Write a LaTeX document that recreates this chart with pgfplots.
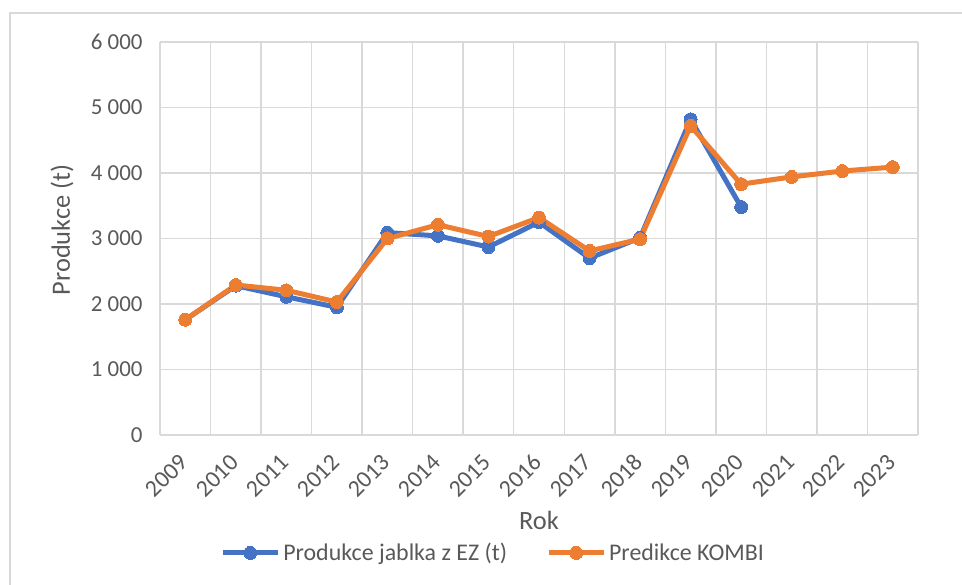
\documentclass[border=0pt]{standalone}
\usepackage{fontspec}
\setmainfont{Carlito}
\usepackage{pgfplots}
\pgfplotsset{compat=1.18}
\definecolor{exblue}{HTML}{4472C4}
\definecolor{exorange}{HTML}{ED7D31}
\definecolor{gridc}{HTML}{D9D9D9}
\definecolor{txt}{HTML}{595959}
\begin{document}
\begin{tikzpicture}
\begin{axis}[
  at={(0,0)}, anchor=south west,
  scale only axis, width=758bp, height=393bp,
  xmin=-0.5, xmax=14.5, ymin=0, ymax=6000,
  xtick={0,...,14},
  xticklabels={2009,2010,2011,2012,2013,2014,2015,2016,2017,2018,2019,2020,2021,2022,2023},
  minor xtick={-0.5,0.5,...,14.5},
  ytick={0,1000,2000,3000,4000,5000,6000},
  yticklabels={0,1 000,2 000,3 000,4 000,5 000,6 000},
  ymajorgrids, xminorgrids,
  major tick length=0, minor tick length=0,
  major grid style={draw=gridc, line width=1.5bp},
  minor grid style={draw=gridc, line width=1.5bp},
  axis line style={draw=none},
  tick label style={text=txt},
  yticklabel style={font=\fontsize{23}{27}\selectfont, xshift=-14bp},
  xticklabel style={font=\fontsize{24}{28}\selectfont, xshift=1bp, yshift=-21bp, rotate=45, anchor=east},
  xlabel={Rok}, ylabel={Produkce (t)},
  label style={font=\fontsize{26.5}{30}\selectfont, text=txt},
  xlabel style={at={(axis description cs:0.5,-0.2163)}, anchor=center},
  ylabel style={at={(axis description cs:-0.1293,0.5216)}, anchor=center},
  legend style={at={(0.44,-0.300)}, anchor=center, draw=none, fill=none,
    legend columns=2, font=\fontsize{24}{28}\selectfont, text=txt,
    nodes={inner xsep=3bp},
    /tikz/every even column/.append style={column sep=36bp}},
  legend cell align=left,
  legend image code/.code={\draw[#1, mark repeat=2, mark phase=2] plot coordinates {(0bp,0bp) (27.5bp,0bp) (55bp,0bp)};},
]
\addplot[exblue, line width=5bp, line join=round, mark=*, mark size=6.5bp,
  mark options={fill=exblue, draw=exblue, line width=0pt}]
  coordinates {(0,1760) (1,2280) (2,2110) (3,1950) (4,3090) (5,3040) (6,2870)
   (7,3250) (8,2700) (9,3010) (10,4820) (11,3480)};
\addlegendentry{Produkce jablka z EZ (t)}
\addplot[exorange, line width=5bp, line join=round, mark=*, mark size=6.5bp,
  mark options={fill=exorange, draw=exorange, line width=0pt}]
  coordinates {(0,1760) (1,2290) (2,2210) (3,2030) (4,3000) (5,3210) (6,3030)
   (7,3320) (8,2810) (9,2990) (10,4720) (11,3830) (12,3940) (13,4030) (14,4090)};
\addlegendentry{Predikce KOMBI}
\end{axis}
\draw[gridc, line width=1.5bp] (-150bp,-160bp) -- (-150bp,422bp) -- (820bp,422bp);
\pgfresetboundingbox
\path (-160bp,-150bp) rectangle (802bp,435bp);
\end{tikzpicture}
\end{document}
